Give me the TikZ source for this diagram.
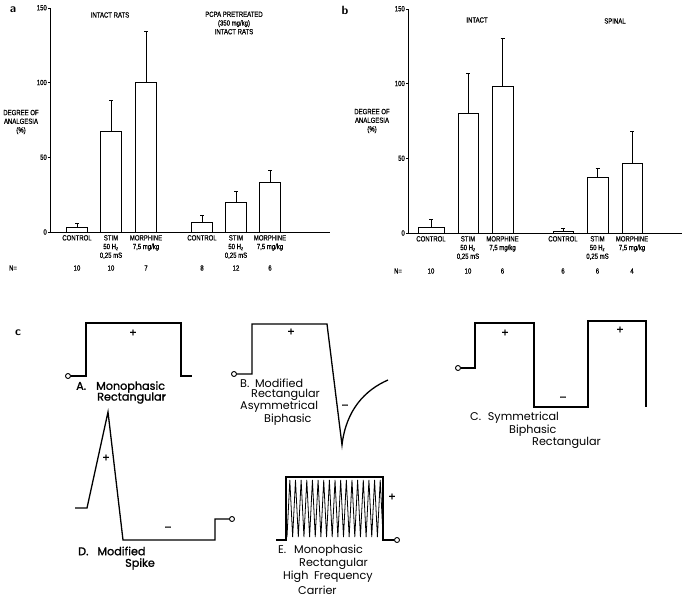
\documentclass[tikz,border=0pt]{standalone}
\usepackage{fontspec}
\newfontfamily\chartfont[FakeStretch=0.8,FakeBold=0.6]{Liberation Sans}
\newfontfamily\waveform{Poppins}
\newfontfamily\waveformbold[FakeBold=1.3]{Poppins}

\tikzset{
  bar/.style={draw, line width=0.8pt, fill=white},
  errbar/.style={line width=0.8pt},
  axisline/.style={line width=0.8pt},
  chartlabel/.style={font=\chartfont\fontsize{7.5}{8.7}\selectfont, align=center, inner sep=0pt},
  pulse/.style={line width=1.3pt, line join=miter},
  pulselabel/.style={font=\waveform\fontsize{11.2}{12}\selectfont, inner sep=0pt, anchor=west},
  boldlabel/.style={pulselabel, font=\waveformbold\fontsize{11.2}{12}\selectfont},
  sign/.style={font=\waveformbold\fontsize{11}{11}\selectfont, inner sep=0pt},
  terminal/.style={circle, draw, line width=0.9pt, inner sep=0pt, minimum size=5pt},
  panel/.style={font=\sffamily\bfseries\fontsize{12}{12}\selectfont, inner sep=0pt},
}

\begin{document}
\begin{tikzpicture}[x=1pt,y=-1pt]
\useasboundingbox (0,0) rectangle (685,599);

% panel a
\node[panel] (a) at (13,10) {a};
\begin{scope}[shift={(50,232)},y=1.495pt]
\draw[axisline] (0,0) -- (0,150);
\draw[axisline] (0,0) -- (280,0);
\foreach \v in {0,50,100,150}
  \draw (0,\v) -- (-2,\v) node[chartlabel,anchor=east,xshift=-1pt] (ay\v) {\v};
\foreach \xc/\val/\err in {27/3/6, 61/67.5/88, 96/100/134, 152/6.5/11, 186/20/27, 220/33/41} {
  \draw[bar] (\xc-10.5,0) rectangle (\xc+10.5,\val);
  \draw[errbar] (\xc,\val) -- (\xc,\err);
  \draw[errbar] (\xc-2,\err) -- (\xc+2,\err);
}
\end{scope}
\node[chartlabel] (adeg) at (21,122) {DEGREE OF\\ANALGESIA\\(\%)};
\node[chartlabel] (agrp1) at (110,15) {INTACT RATS};
\node[chartlabel] (agrp2) at (234,23) {PCPA PRETREATED\\(350 mg/kg)\\INTACT RATS};
\foreach \xc/\txt [count=\i] in {77/CONTROL, 111/{STIM\\50 H\textsubscript{z}\\0,25 mS}, 146/{MORPHINE\\7,5 mg/kg},
    202/CONTROL, 236/{STIM\\50 H\textsubscript{z}\\0,25 mS}, 270/{MORPHINE\\7,5 mg/kg}}
  \node[chartlabel,anchor=north] (alab\i) at (\xc,235) {\txt};
\node[chartlabel] (aN) at (13,268) {N=};
\foreach \xc/\n [count=\i] in {77/10, 111/10, 146/7, 202/8, 236/12, 270/6}
  \node[chartlabel] (an\i) at (\xc,268) {\n};

% panel b
\node[panel] (b) at (345,10) {b};
\begin{scope}[shift={(408,233)},y=1.495pt]
\draw[axisline] (0,0) -- (0,150);
\draw[axisline] (0,0) -- (274,0);
\foreach \v in {0,50,100,150}
  \draw (0,\v) -- (-2,\v) node[chartlabel,anchor=east,xshift=-1pt] (by\v) {\v};
\foreach \xc/\w/\val/\err in {23/13/3.5/9, 60/10/80/107, 94.5/10.5/98/130, 155/10/1/3, 189.5/10.5/37.5/43, 224/10/46.5/68} {
  \draw[bar] (\xc-\w,0) rectangle (\xc+\w,\val);
  \draw[errbar] (\xc,\val) -- (\xc,\err);
  \draw[errbar] (\xc-2,\err) -- (\xc+2,\err);
}
\end{scope}
\node[chartlabel] (bdeg) at (372,121) {DEGREE OF\\ANALGESIA\\(\%)};
\node[chartlabel] (bgrp1) at (477,20) {INTACT};
\node[chartlabel] (bgrp2) at (615,21) {SPINAL};
\foreach \xc/\txt [count=\i] in {431/CONTROL, 468/{STIM\\50 H\textsubscript{z}\\0,25 mS}, 502.5/{MORPHINE\\7,5 mg/kg},
    563/CONTROL, 597.5/{STIM\\50 H\textsubscript{z}\\0,25 mS}, 632/{MORPHINE\\7,5 mg/kg}}
  \node[chartlabel,anchor=north] (blab\i) at (\xc,236) {\txt};
\node[chartlabel] (bN) at (398,271) {N=};
\foreach \xc/\n [count=\i] in {431/10, 468/10, 502.5/6, 563/6, 597.5/6, 632/4}
  \node[chartlabel] (bn\i) at (\xc,271) {\n};

% panel c
\node[panel] (c) at (18,333) {c};

% A
\node[terminal] (a0) at (68,376) {};
\draw[pulse] (a0.east) -- (86,376) -- (86,323) -- (181,323) -- (181,376) -- (192,376);
\node[sign] (aplus) at (133,333) {+};
\node[boldlabel] (atxt1) at (76,387) {A.\hspace{0.9em}Monophasic};
\node[boldlabel] (atxt2) at (97,398) {Rectangular};

% B
\node[terminal] (b0) at (234,374) {};
\draw[pulse] (b0.east) -- (252,374) -- (252,324) -- (327,324) -- (342,445)
  .. controls (346,410) and (365,390) .. (388,380);
\node[sign] (bplus) at (291,332) {+};
\node[sign] (bminus) at (345,407) {–};
\node[pulselabel] (btxt1) at (240,383) {B.\hspace{0.5em}Modified};
\node[pulselabel] (btxt2) at (251,395) {Rectangular};
\node[pulselabel] (btxt3) at (240,407) {Asymmetrical};
\node[pulselabel] (btxt4) at (264,420) {Biphasic};

% C
\node[terminal] (c0) at (458,368) {};
\draw[pulse] (c0.east) -- (475,368) -- (475,323) -- (534,323) -- (534,407) -- (588,407)
  -- (588,321) -- (646,321) -- (646,407);
\node[sign] (cplus1) at (505,333) {+};
\node[sign] (cplus2) at (620,330) {+};
\node[sign] (cminus) at (563,399) {–};
\node[pulselabel] (ctxt1) at (470,418) {C.\hspace{0.6em}Symmetrical};
\node[pulselabel] (ctxt2) at (509,431) {Biphasic};
\node[pulselabel] (ctxt3) at (532,443) {Rectangular};

% D
\node[terminal] (d0) at (232,519) {};
\draw[pulse] (75,508) -- (87,508) -- (108,412) -- (123,540) -- (215,540) -- (215,519) -- (d0.west);
\node[sign] (dplus) at (106,458) {+};
\node[sign] (dminus) at (168,529) {–};
\node[boldlabel] (dtxt1) at (78,551) {D.\hspace{0.8em}Modified};
\node[boldlabel] (dtxt2) at (125,564) {Spike};

% E
\node[terminal] (e0) at (397,540) {};
\draw[pulse] (276,540) -- (286,540) -- (286,477) -- (383,477) -- (383,540) -- (e0.west);
\draw[line width=0.8pt] (287,537)
  \foreach \k in {1,...,17} { -- ({287+(\k-0.5)*5.65},480) -- ({287+\k*5.65},537) };
\node[sign] (eplus) at (392,497) {+};
\node[pulselabel] (etxt1) at (278,551) {E.\hspace{0.7em}Monophasic};
\node[pulselabel] (etxt2) at (299,564) {Rectangular};
\node[pulselabel] (etxt3) at (283,577) {High\hspace{0.5em}Frequency};
\node[pulselabel] (etxt4) at (298,590) {Carrier};

\end{tikzpicture}
\end{document}
